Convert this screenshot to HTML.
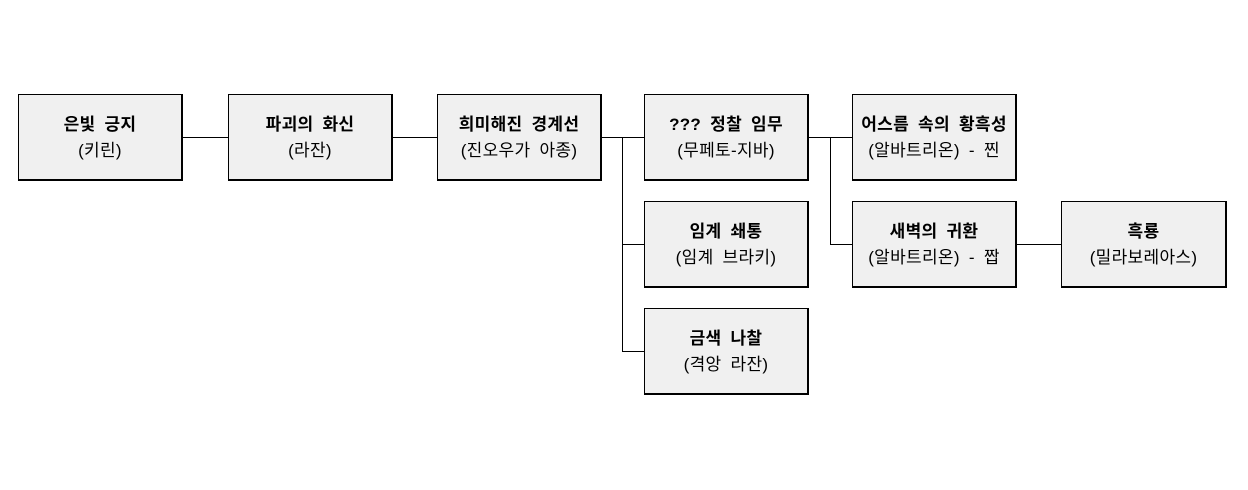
<!DOCTYPE html>
<html><head><meta charset="utf-8">
<style>
html,body{margin:0;padding:0;background:#fff;}
body{width:1248px;height:490px;position:relative;overflow:hidden;font-family:"Liberation Sans","Noto Sans CJK KR","NanumGothic",sans-serif;}
.b{position:absolute;width:165px;height:87px;box-sizing:border-box;background:#f0f0f0;border-style:solid;border-color:#000;border-width:1px 2px 2px 1px;text-align:center;color:#000;}
.t{position:absolute;left:0;right:0;top:17px;font-size:17px;font-weight:bold;line-height:26px;white-space:nowrap;word-spacing:4px;letter-spacing:0.3px;}
.s{position:absolute;left:0;right:0;top:43px;font-size:17px;line-height:26px;white-space:nowrap;word-spacing:4px;letter-spacing:0.3px;}
.h{position:absolute;height:1px;background:#000;}
.v{position:absolute;width:1px;background:#000;}
</style></head><body>
<div class="h" style="left:182px;top:137px;width:46px"></div>
<div class="h" style="left:392px;top:137px;width:45px"></div>
<div class="h" style="left:602px;top:137px;width:42px"></div>
<div class="v" style="left:622px;top:137px;height:215px"></div>
<div class="h" style="left:622px;top:244px;width:22px"></div>
<div class="h" style="left:622px;top:351px;width:22px"></div>
<div class="h" style="left:808px;top:137px;width:44px"></div>
<div class="v" style="left:830px;top:137px;height:108px"></div>
<div class="h" style="left:830px;top:244px;width:22px"></div>
<div class="h" style="left:1016px;top:244px;width:45px"></div>

<div class="b" style="left:18px;top:94px"><div class="t">은빛 긍지</div><div class="s">(키린)</div></div>
<div class="b" style="left:228px;top:94px"><div class="t">파괴의 화신</div><div class="s">(라잔)</div></div>
<div class="b" style="left:437px;top:94px"><div class="t">희미해진 경계선</div><div class="s">(진오우가 아종)</div></div>
<div class="b" style="left:644px;top:94px"><div class="t">??? 정찰 임무</div><div class="s">(무페토-지바)</div></div>
<div class="b" style="left:644px;top:201px"><div class="t">임계 쇄통</div><div class="s">(임계 브라키)</div></div>
<div class="b" style="left:644px;top:308px"><div class="t">금색 나찰</div><div class="s">(격앙 라잔)</div></div>
<div class="b" style="left:852px;top:94px"><div class="t">어스름 속의 황흑성</div><div class="s">(알바트리온) - 찐</div></div>
<div class="b" style="left:852px;top:201px"><div class="t">새벽의 귀환</div><div class="s">(알바트리온) - 짭</div></div>
<div class="b" style="left:1061px;top:201px;width:166px"><div class="t">흑룡</div><div class="s">(밀라보레아스)</div></div>
</body></html>
